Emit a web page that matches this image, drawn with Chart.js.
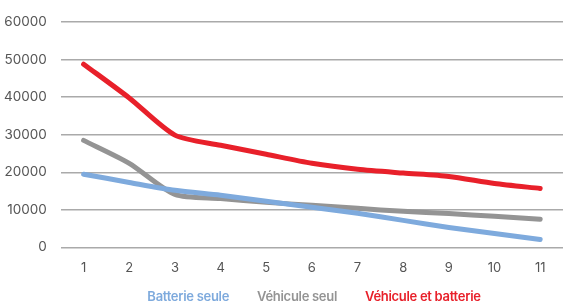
<!DOCTYPE html>
<html>
<head>
<meta charset="utf-8">
<script src="https://cdn.jsdelivr.net/npm/chart.js@4/dist/chart.umd.min.js"></script>
<style>
  html, body { margin: 0; padding: 0; background: #fff; }
  #wrap { position: relative; width: 563px; height: 303px; }
  #legend {
    position: absolute; left: 65px; right: 0; top: 288px;
    display: flex; justify-content: center; gap: 28px;
    font: 600 13px Inter, sans-serif; line-height: 17px; letter-spacing: -0.3px;
  }
</style>
</head>
<body>
<div id="wrap"><canvas id="c"></canvas><div id="legend"></div></div>
<script>
const years = ['1', '2', '3', '4', '5', '6', '7', '8', '9', '10', '11'];
const batterieSeule = [19500, 17300, 15200, 13900, 12300, 10700, 9100, 7200, 5300, 3700, 2100];
const vehiculeSeul = [28500, 22400, 14100, 13000, 12000, 11200, 10400, 9600, 9000, 8300, 7500];
const vehiculeEtBatterie = [48800, 39800, 29900, 27200, 24800, 22400, 20800, 19800, 18900, 17000, 15700];
const yTicks = [0, 10000, 20000, 30000, 40000, 50000, 60000];

const colors = ['#7eaadd', '#949494', '#e8202a'];

function series(label, data, color) {
  return {
    label,
    data,
    borderColor: color,
    backgroundColor: color,
    borderWidth: 5,
    pointRadius: 0,
    tension: 0.25,
    borderCapStyle: 'round',
    borderJoinStyle: 'round',
  };
}

const chart = new Chart(document.getElementById('c'), {
  type: 'line',
  data: {
    labels: years,
    datasets: [
      series('Batterie seule', batterieSeule, colors[0]),
      series('Véhicule seul', vehiculeSeul, colors[1]),
      series('Véhicule et batterie', vehiculeEtBatterie, colors[2]),
    ],
  },
  options: {
    responsive: true,
    maintainAspectRatio: false,
    animation: false,
    layout: { padding: { top: 14, right: 0, left: -10, bottom: 22 } },
    plugins: {
      tooltip: { enabled: false },
      legend: { display: false },
    },
    scales: {
      x: {
        offset: true,
        grid: { display: false },
        border: { display: false },
        ticks: { color: '#555', padding: 5, font: { family: 'Inter', size: 13 } },
      },
      y: {
        min: 0,
        max: 60000,
        afterBuildTicks: (axis) => { axis.ticks = yTicks.map((v) => ({ value: v })); },
        grid: { color: '#aaaaaa', lineWidth: 1.5, drawTicks: false },
        border: { display: false },
        ticks: {
          color: '#555',
          padding: 14,
          font: { family: 'Inter', size: 13.5 },
          callback: (v) => String(v),
        },
      },
    },
  },
});

// HTML legend: coloured text only, no swatches
document.getElementById('legend').innerHTML = chart.data.datasets
  .map((ds) => `<span style="color:${ds.borderColor}">${ds.label}</span>`)
  .join('');
</script>
</body>
</html>
